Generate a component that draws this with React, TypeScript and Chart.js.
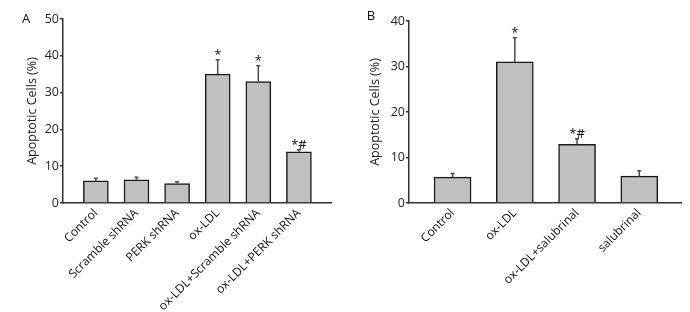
import React, { useEffect, useRef } from 'react';
import { Chart, registerables } from 'chart.js';

Chart.register(...registerables);

// ---------- Data ----------
const labelsA = ['Control', 'Scramble shRNA', 'PERK shRNA', 'ox-LDL', 'ox-LDL+Scramble shRNA', 'ox-LDL+PERK shRNA'];
const valuesA = [6.0, 6.3, 5.3, 35.0, 33.0, 13.9];
const errorsA = [0.7, 0.7, 0.5, 3.9, 4.3, 0.6];
const marksA = ['', '', '', '*', '*', '*#'];
const yTicksA = [0, 10, 20, 30, 40, 50];

const labelsB = ['Control', 'ox-LDL', 'ox-LDL+salubrinal', 'salubrinal'];
const valuesB = [5.7, 31.0, 12.9, 5.9];
const errorsB = [0.8, 5.3, 1.2, 1.2];
const marksB = ['', '*', '*#', ''];
const yTicksB = [0, 10, 20, 30, 40];

const yTitle = 'Apoptotic Cells (%)';
const FONT = "'Open Sans', 'DejaVu Sans', sans-serif";

type PanelCfg = {
  letter: string;
  labels: string[];
  values: number[];
  errors: number[];
  marks: string[];
  yTicks: number[];
  left: number;
  width: number;
  areaLeft: number;
  areaRight: number;
  areaTop: number;
  areaBottom: number;
  xMin: number;
  xMax: number;
  barThickness: number;
  titlePad: number;
  letterX: number;
  letterY: number;
};

const H = 312;

const panels: PanelCfg[] = [
  {
    letter: 'A', labels: labelsA, values: valuesA, errors: errorsA, marks: marksA, yTicks: yTicksA,
    left: 0, width: 345, areaLeft: 63, areaRight: 331, areaTop: 19, areaBottom: 203,
    xMin: -0.81, xMax: 5.79, barThickness: 25, titlePad: 25, letterX: 26, letterY: 19,
  },
  {
    letter: 'B', labels: labelsB, values: valuesB, errors: errorsB, marks: marksB, yTicks: yTicksB,
    left: 345, width: 345, areaLeft: 64, areaRight: 336, areaTop: 21, areaBottom: 203,
    xMin: -0.70, xMax: 3.67, barThickness: 37, titlePad: 23, letterX: 26, letterY: 16,
  },
];

function Panel({ cfg }: { cfg: PanelCfg }) {
  const ref = useRef<HTMLCanvasElement>(null);

  useEffect(() => {
    const overlay = {
      id: 'overlay',
      afterDatasetsDraw(chart: any) {
        const { ctx } = chart;
        const xs = chart.scales.x;
        const ys = chart.scales.y;
        ctx.save();
        cfg.values.forEach((v, i) => {
          const x = xs.getPixelForValue(i);
          const yTop = ys.getPixelForValue(v);
          const yErr = ys.getPixelForValue(v + cfg.errors[i]);
          ctx.strokeStyle = '#4a4a4a';
          ctx.lineWidth = 1.5;
          ctx.beginPath();
          ctx.moveTo(x, yTop);
          ctx.lineTo(x, yErr);
          ctx.moveTo(x - 2, yErr);
          ctx.lineTo(x + 2, yErr);
          ctx.stroke();
          if (cfg.marks[i]) {
            ctx.fillStyle = '#111';
            ctx.font = `13px ${FONT}`;
            ctx.textAlign = 'center';
            ctx.textBaseline = 'alphabetic';
            ctx.fillText(cfg.marks[i], x, yErr - 1);
          }
        });
        ctx.restore();
      },
      afterDraw(chart: any) {
        const { ctx } = chart;
        ctx.save();
        ctx.fillStyle = '#111';
        ctx.font = `13px ${FONT}`;
        ctx.textAlign = 'center';
        ctx.textBaseline = 'middle';
        ctx.fillText(cfg.letter, cfg.letterX, cfg.letterY);
        ctx.restore();
      },
    };

    const chart = new Chart(ref.current as HTMLCanvasElement, {
      type: 'bar',
      data: {
        datasets: [
          {
            data: cfg.values.map((v, i) => ({ x: i, y: v })),
            backgroundColor: '#c0c0c0',
            borderColor: '#1a1a1a',
            borderWidth: 1.5,
            barThickness: cfg.barThickness,
          } as any,
        ],
      },
      options: {
        responsive: false,
        animation: false,
        layout: { padding: { top: cfg.areaTop, right: cfg.width - cfg.areaRight, left: 0, bottom: 0 } },
        plugins: { legend: { display: false }, tooltip: { enabled: false } },
        scales: {
          x: {
            type: 'linear',
            min: cfg.xMin,
            max: cfg.xMax,
            offset: false,
            grid: { display: false, drawTicks: false, offset: false },
            border: { display: true, color: '#333', width: 1.5 },
            ticks: {
              autoSkip: false,
              minRotation: 45,
              maxRotation: 45,
              padding: 3,
              color: '#111',
              font: { family: FONT, size: 12 },
              callback: (v: any) => cfg.labels[v] ?? '',
            },
            afterBuildTicks: (s: any) => {
              s.ticks = cfg.labels.map((_, i) => ({ value: i }));
            },
            afterFit: (s: any) => {
              s.height = H - cfg.areaBottom;
            },
          },
          y: {
            min: 0,
            max: cfg.yTicks[cfg.yTicks.length - 1],
            grid: { drawOnChartArea: false, drawTicks: true, tickLength: 3, color: '#333', lineWidth: 1.5 },
            border: { display: true, color: '#333', width: 1.5 },
            ticks: { padding: 1, color: '#222', font: { family: FONT, size: 12.5 } },
            afterBuildTicks: (s: any) => {
              s.ticks = cfg.yTicks.map((t) => ({ value: t }));
            },
            title: {
              display: true,
              text: yTitle,
              color: '#222',
              font: { family: FONT, size: 12.5 },
              padding: { top: cfg.titlePad, bottom: 0 },
            },
            afterFit: (s: any) => {
              s.width = cfg.areaLeft;
            },
          },
        },
      } as any,
      plugins: [overlay],
    });
    return () => chart.destroy();
  }, [cfg]);

  return (
    <canvas
      ref={ref}
      width={cfg.width}
      height={H}
      style={{ position: 'absolute', left: cfg.left, top: 0, width: cfg.width, height: H }}
    />
  );
}

export default function App() {
  return (
    <div style={{ position: 'fixed', left: 0, top: 0, width: 690, height: H, background: '#fff' }}>
      {panels.map((p) => (
        <Panel key={p.letter} cfg={p} />
      ))}
    </div>
  );
}
